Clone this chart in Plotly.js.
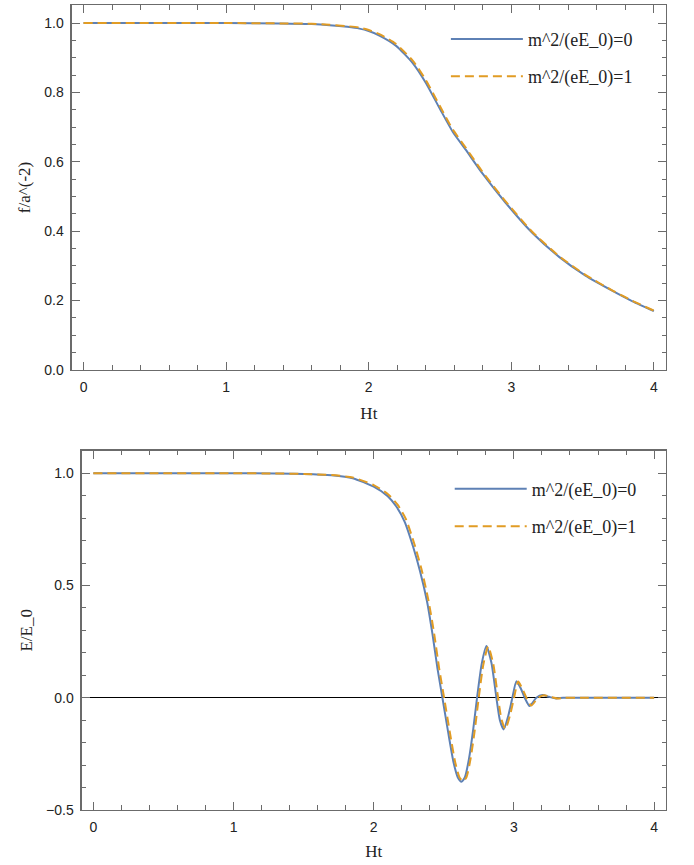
<!DOCTYPE html>
<html>
<head>
<meta charset="utf-8">
<script src="https://cdn.plot.ly/plotly-3.0.1.min.js"></script>
<style>html,body{margin:0;padding:0;background:#fff}</style>
</head>
<body>
<div id="chart" style="width:694px;height:865px"></div>
<script>
// ---- Data ----
var seriesNames = ["m^2/(eE_0)=0", "m^2/(eE_0)=1"];

// Top panel: f/a^(-2) vs Ht
var fHt0 = [0, 0.5, 1.0, 1.375, 1.6, 1.725, 1.85, 1.935, 2.0, 2.075, 2.19, 2.31, 2.40, 2.50, 2.59, 2.68, 2.80, 2.96, 3.15, 3.335, 3.52, 3.71, 3.85, 4.0];
var fVal0 = [1.0, 1.0, 1.0, 0.999, 0.997, 0.994, 0.989, 0.984, 0.977, 0.964, 0.935, 0.884, 0.828, 0.752, 0.686, 0.635, 0.565, 0.482, 0.394, 0.326, 0.272, 0.228, 0.198, 0.170];
var fHt1 = [0, 0.5, 1.0, 1.375, 1.6, 1.725, 1.85, 1.935, 2.0, 2.075, 2.19, 2.31, 2.40, 2.50, 2.59, 2.68, 2.80, 2.96, 3.15, 3.335, 3.52, 3.71, 3.85, 4.0];
var fVal1 = [1.0, 1.0, 1.0, 0.999, 0.998, 0.995, 0.991, 0.987, 0.980, 0.968, 0.940, 0.891, 0.836, 0.760, 0.693, 0.641, 0.570, 0.486, 0.397, 0.328, 0.274, 0.229, 0.199, 0.171];

// Bottom panel: E/E_0 vs Ht
var eHt0 = [0, 0.5, 1.0, 1.3, 1.5, 1.7, 1.85, 2.0, 2.1, 2.16, 2.22, 2.28, 2.33, 2.38, 2.42, 2.455, 2.49, 2.53, 2.57, 2.60, 2.626, 2.65, 2.68, 2.71, 2.737, 2.77, 2.804, 2.84, 2.875, 2.90, 2.927, 2.96, 2.989, 3.018, 3.05, 3.077, 3.112, 3.16, 3.203, 3.25, 3.30, 3.35, 3.5, 4.0];
var eVal0 = [1.0, 1.0, 1.0, 0.999, 0.997, 0.991, 0.978, 0.940, 0.898, 0.853, 0.785, 0.675, 0.565, 0.430, 0.280, 0.130, 0.0, -0.150, -0.290, -0.355, -0.374, -0.355, -0.270, -0.140, 0.0, 0.150, 0.230, 0.155, 0.0, -0.100, -0.141, -0.080, 0.0, 0.074, 0.040, 0.0, -0.037, 0.0, 0.012, 0.004, -0.003, 0.0, 0.0, 0.0];
var eHt1 = [0, 0.5, 1.0, 1.3, 1.5, 1.7, 1.85, 2.0, 2.1, 2.17, 2.23, 2.29, 2.34, 2.39, 2.43, 2.467, 2.502, 2.542, 2.582, 2.612, 2.638, 2.662, 2.692, 2.722, 2.749, 2.782, 2.816, 2.852, 2.887, 2.912, 2.939, 2.972, 3.001, 3.030, 3.062, 3.089, 3.124, 3.172, 3.215, 3.262, 3.312, 3.36, 3.5, 4.0];
var eVal1 = [1.0, 1.0, 1.0, 0.999, 0.997, 0.992, 0.981, 0.947, 0.908, 0.860, 0.795, 0.685, 0.575, 0.435, 0.290, 0.130, 0.0, -0.150, -0.290, -0.355, -0.372, -0.353, -0.268, -0.138, 0.0, 0.148, 0.228, 0.153, 0.0, -0.098, -0.139, -0.078, 0.0, 0.072, 0.038, 0.0, -0.035, 0.0, 0.011, 0.004, -0.003, 0.0, 0.0, 0.0];

var topTicks = [0, 0.2, 0.4, 0.6, 0.8, 1.0];
var botTicks = [-0.5, 0, 0.5, 1.0];
var xTicks = [0, 1, 2, 3, 4];

// ---- Styling ----
var blue = "#5E81B5", orange = "#E19C24";
var frameColor = "#6b6b6b";
var SANS = "'Liberation Sans', Arial, sans-serif";
var SERIF = "'Liberation Serif', 'Times New Roman', serif";
var tickFont = {family: SANS, size: 14, color: "#222"};
var titleFont = {family: SERIF, size: 17, color: "#222"};
var legFont = {family: SERIF, size: 18, color: "#222"};

function axisBase(extra) {
  var a = {
    showgrid: false, zeroline: false, showline: true, mirror: "ticks",
    linecolor: frameColor, linewidth: 1.2,
    ticks: "inside", ticklen: 8, tickwidth: 1, tickcolor: frameColor,
    tickfont: tickFont, ticklabelstandoff: 4
  };
  for (var k in extra) a[k] = extra[k];
  return a;
}

var traces = [
  {x: fHt0, y: fVal0, xaxis: "x", yaxis: "y", name: seriesNames[0], mode: "lines",
   line: {color: blue, width: 2, shape: "spline", smoothing: 0.6}, legend: "legend", legendgroup: "a"},
  {x: fHt1, y: fVal1, xaxis: "x", yaxis: "y", name: seriesNames[1], mode: "lines",
   line: {color: orange, width: 2, dash: "9px,5px", shape: "spline", smoothing: 0.6}, legend: "legend", legendgroup: "b"},
  {x: eHt0, y: eVal0, xaxis: "x2", yaxis: "y2", name: seriesNames[0], mode: "lines",
   line: {color: blue, width: 2, shape: "spline", smoothing: 0.6}, legend: "legend2", legendgroup: "c"},
  {x: eHt1, y: eVal1, xaxis: "x2", yaxis: "y2", name: seriesNames[1], mode: "lines",
   line: {color: orange, width: 2, dash: "9px,5px", shape: "spline", smoothing: 0.6}, legend: "legend2", legendgroup: "d"}
];

var layout = {
  width: 694, height: 865,
  margin: {l: 0, r: 0, t: 0, b: 0},
  paper_bgcolor: "#fff", plot_bgcolor: "#fff",
  font: {family: SERIF},
  showlegend: true,
  xaxis: axisBase({domain: [0.1033, 0.9597], range: [-0.083, 4.085], anchor: "y",
    tickvals: xTicks, tickformat: "d",
    minor: {dtick: 0.2, tick0: 0, ticks: "inside", ticklen: 4.5, tickcolor: frameColor, tickwidth: 1},
    title: {text: "Ht", font: titleFont, standoff: 13}}),
  yaxis: axisBase({domain: [0.5723, 0.9942], range: [0, 1.052], anchor: "x",
    tickvals: topTicks, tickformat: ".1f",
    minor: {dtick: 0.05, tick0: 0, ticks: "inside", ticklen: 4.5, tickcolor: frameColor, tickwidth: 1},
    title: {text: "f/a^(-2)", font: titleFont, standoff: 9}}),
  xaxis2: axisBase({domain: [0.1177, 0.9597], range: [-0.083, 4.085], anchor: "y2",
    tickvals: xTicks, tickformat: "d",
    minor: {dtick: 0.2, tick0: 0, ticks: "inside", ticklen: 4.5, tickcolor: frameColor, tickwidth: 1},
    title: {text: "Ht", font: titleFont, standoff: 11}}),
  yaxis2: axisBase({domain: [0.0636, 0.4790], range: [-0.5, 1.1007], anchor: "x2",
    tickvals: botTicks, tickformat: ".1f",
    zeroline: true, zerolinecolor: "#000", zerolinewidth: 1.2,
    minor: {dtick: 0.1, tick0: 0, ticks: "inside", ticklen: 4.5, tickcolor: frameColor, tickwidth: 1},
    title: {text: "E/E_0", font: titleFont, standoff: 9}}),
  legend: {x: 0.6425, y: 0.976, xanchor: "left", yanchor: "top", bgcolor: "rgba(0,0,0,0)",
    font: legFont, itemwidth: 72, tracegroupgap: 11, traceorder: "grouped"},
  legend2: {x: 0.648, y: 0.456, xanchor: "left", yanchor: "top", bgcolor: "rgba(0,0,0,0)",
    font: legFont, itemwidth: 72, tracegroupgap: 11, traceorder: "grouped"}
};

Plotly.newPlot("chart", traces, layout, {displayModeBar: false, staticPlot: true});
</script>
</body>
</html>
